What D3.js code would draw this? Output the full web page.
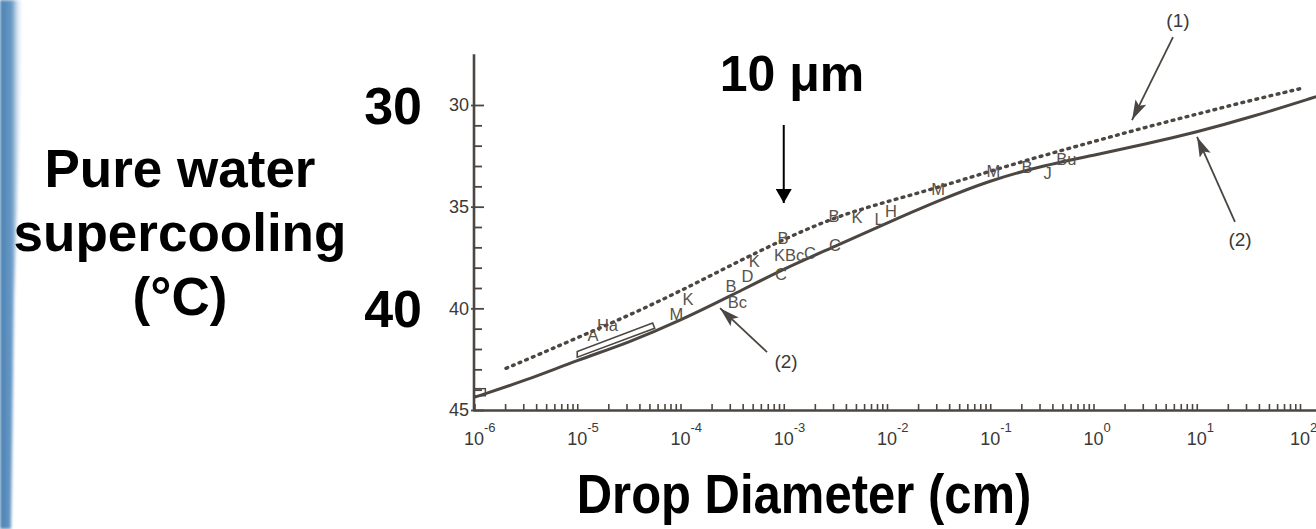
<!DOCTYPE html>
<html>
<head>
<meta charset="utf-8">
<script src="https://cdn.jsdelivr.net/npm/d3@7"></script>
<style>
  html, body { margin: 0; padding: 0; background: #ffffff; }
  svg { display: block; }
</style>
</head>
<body>
<svg id="chart" width="1316" height="529"></svg>
<script>
// ---- Data -------------------------------------------------------------
// Drop diameter as log10(cm); supercooling temperature in °C (plotted downward)
const solidLogD  = [-6.0, -5.5, -5.0, -4.5, -4.0, -3.5, -3.0, -2.5, -2.0, -1.5, -1.0, -0.5, 0.0, 0.5, 1.0, 1.5, 2.2];
const solidTemp  = [44.38, 43.55, 42.55, 41.68, 40.6, 39.35, 38.05, 36.95, 35.8, 34.7, 33.7, 33.0, 32.47, 31.93, 31.33, 30.64, 29.52];

const dottedLogD = [-5.69, -5.5, -5.0, -4.5, -4.0, -3.5, -3.0, -2.5, -2.0, -1.5, -1.0, -0.5, 0.0, 0.5, 1.0, 1.5, 2.0];
const dottedTemp = [42.95, 42.55, 41.45, 40.35, 39.15, 37.85, 36.6, 35.5, 34.75, 34.05, 33.25, 32.5, 31.8, 31.1, 30.45, 29.8, 29.2];

// Experimental data markers (letters) along the curves
const markText = ["A", "Ha", "M", "K", "B", "Bc", "D", "K", "B", "KBc", "C", "C", "C", "B", "K", "L", "H", "M", "M", "B", "J", "Bu"];
const markLogD = [-4.847, -4.707, -4.039, -3.927, -3.511, -3.448, -3.351, -3.285, -3.007, -2.949, -3.027, -2.745, -2.504, -2.513, -2.291, -2.077, -1.961, -1.506, -0.969, -0.644, -0.445, -0.262];
const markTemp = [41.3, 40.82, 40.28, 39.55, 38.9, 39.7, 38.42, 37.68, 36.55, 37.38, 38.3, 37.3, 36.9, 35.46, 35.53, 35.6, 35.21, 34.13, 33.25, 33.05, 33.35, 32.68];

// Measurement range boxes (parallelogram corners)
const boxLogD = [-5.0, -5.0, -4.27, -4.25];
const boxTemp = [42.4, 42.12, 40.72, 40.98];
const startBoxLogD = [-6.0, -5.89];
const startBoxTemp = [43.95, 44.3];

// Curve callouts: label, arrow tail and arrow tip
const noteText     = ["(1)", "(2)", "(2)"];
const noteLabLogD  = [0.818, 1.419, -2.978];
const noteLabTemp  = [25.82, 36.6, 42.62];
const noteTailLogD = [0.770, 1.370, -3.162];
const noteTailTemp = [26.66, 35.75, 42.15];
const noteTipLogD  = [0.373, 1.003, -3.617];
const noteTipTemp  = [30.74, 31.57, 39.99];

// Axis ticks
const yMinorTicks = d3.range(30, 46);
const yLabelTicks = [30, 35, 40, 45];
const xDecades    = [-6, -5, -4, -3, -2, -1, 0, 1, 2];
const bigYLabels  = [30, 40];

// ---- Layout -----------------------------------------------------------
const INK = "#4b4641";
const FONT = "'Liberation Sans', Arial, Helvetica, sans-serif";

const svg = d3.select("#chart");

const x = d3.scaleLog().domain([1e-6, Math.pow(10, 2.2)]).range([474, 474 + 8.2 * 103.25]);
const y = d3.scaleLinear().domain([30, 45]).range([105, 410]);
const px = ld => x(Math.pow(10, ld));

// Slide background edge on the left
const defs = svg.append("defs");
const grad = defs.append("linearGradient").attr("id", "edge").attr("x1", 0).attr("x2", 1).attr("y1", 0).attr("y2", 0);
grad.append("stop").attr("offset", "0%").attr("stop-color", "#4a80b2");
grad.append("stop").attr("offset", "50%").attr("stop-color", "#6a9ac6");
grad.append("stop").attr("offset", "100%").attr("stop-color", "#ffffff").attr("stop-opacity", 0);
defs.append("filter").attr("id", "soft").append("feGaussianBlur").attr("stdDeviation", 1.8);
svg.append("path")
  .attr("d", "M0,0 L24,0 L20,120 L14,300 L11,529 L0,529 Z")
  .attr("fill", "url(#edge)")
  .attr("filter", "url(#soft)");

// ---- Axes -------------------------------------------------------------
const yAxis = d3.axisLeft(y)
  .tickValues(yMinorTicks)
  .tickSize(-9)
  .tickPadding(6)
  .tickFormat(d => yLabelTicks.includes(d) ? d : "");

const gy = svg.append("g").attr("transform", "translate(474,0)").call(yAxis);
gy.select(".domain").remove();
gy.selectAll(".tick line")
  .attr("stroke", INK).attr("stroke-width", 1.8)
  .attr("x1", d => yLabelTicks.includes(d) ? -3 : 0)
  .attr("x2", d => yLabelTicks.includes(d) ? 10 : 8);
gy.selectAll(".tick text")
  .attr("x", -5)
  .attr("font-family", FONT).attr("font-size", 18).attr("fill", "#3a3936");
svg.append("line")
  .attr("x1", 474).attr("x2", 474)
  .attr("y1", y(27.5)).attr("y2", y(45))
  .attr("stroke", INK).attr("stroke-width", 2.6);

const xMinor = [];
xDecades.forEach(n => { for (let k = 2; k <= 10; k++) xMinor.push(k * Math.pow(10, n)); });
const xAxis = d3.axisBottom(x)
  .tickValues(xMinor.filter(v => v <= x.domain()[1]))
  .tickSize(-6)
  .tickFormat("");
const gx = svg.append("g").attr("transform", "translate(0,410)").call(xAxis);
gx.select(".domain").attr("stroke", INK).attr("stroke-width", 2.6);
gx.selectAll(".tick line").attr("stroke", INK).attr("stroke-width", 1.6);

// Decade labels with superscript exponents
const xl = svg.append("g").attr("font-family", FONT).attr("fill", "#3a3936");
xl.selectAll("text.base").data(xDecades).join("text")
  .attr("class", "base")
  .attr("x", d => px(d)).attr("y", 445)
  .attr("text-anchor", "middle")
  .attr("font-size", 18)
  .text("10");
xl.selectAll("text.exp").data(xDecades).join("text")
  .attr("class", "exp")
  .attr("x", d => px(d) + 10).attr("y", 432)
  .attr("font-size", 13)
  .text(d => String(d));

// ---- Curves -----------------------------------------------------------
const line = d3.line()
  .x(d => px(d[0]))
  .y(d => y(d[1]))
  .curve(d3.curveBasis);

svg.append("path")
  .datum(solidLogD.map((v, i) => [v, solidTemp[i]]))
  .attr("d", line)
  .attr("fill", "none")
  .attr("stroke", INK)
  .attr("stroke-width", 3);

svg.append("path")
  .datum(dottedLogD.map((v, i) => [v, dottedTemp[i]]))
  .attr("d", line)
  .attr("fill", "none")
  .attr("stroke", INK)
  .attr("stroke-width", 3.4)
  .attr("stroke-linecap", "round")
  .attr("stroke-dasharray", "1.8 5.4");

// Measurement boxes
svg.append("path")
  .datum(boxLogD.map((v, i) => [px(v), y(boxTemp[i])]))
  .attr("d", d => "M" + d.join("L") + "Z")
  .attr("fill", "none")
  .attr("stroke", INK)
  .attr("stroke-width", 1.6);
svg.append("rect")
  .attr("x", px(startBoxLogD[0])).attr("y", y(startBoxTemp[0]))
  .attr("width", px(startBoxLogD[1]) - px(startBoxLogD[0]))
  .attr("height", y(startBoxTemp[1]) - y(startBoxTemp[0]))
  .attr("fill", "none").attr("stroke", INK).attr("stroke-width", 1.4);

// Letter markers
svg.append("g")
  .attr("font-family", FONT).attr("font-size", 16.5).attr("fill", "#57524c")
  .selectAll("text").data(markText).join("text")
  .attr("x", (d, i) => px(markLogD[i]))
  .attr("y", (d, i) => y(markTemp[i]))
  .attr("text-anchor", "middle")
  .attr("dominant-baseline", "central")
  .text(d => d);

// Callout arrows
defs.append("marker")
  .attr("id", "head")
  .attr("viewBox", "0 0 20 12").attr("refX", 20).attr("refY", 6)
  .attr("markerUnits", "userSpaceOnUse")
  .attr("markerWidth", 20).attr("markerHeight", 12)
  .attr("orient", "auto")
  .append("path").attr("d", "M0,0 L20,6 L0,12 L4,6 Z").attr("fill", INK);

const notes = svg.append("g");
noteText.forEach((t, i) => {
  notes.append("line")
    .attr("x1", px(noteTailLogD[i])).attr("y1", y(noteTailTemp[i]))
    .attr("x2", px(noteTipLogD[i])).attr("y2", y(noteTipTemp[i]))
    .attr("stroke", INK).attr("stroke-width", 1.8)
    .attr("marker-end", "url(#head)");
  notes.append("text")
    .attr("x", px(noteLabLogD[i])).attr("y", y(noteLabTemp[i]))
    .attr("text-anchor", "middle").attr("dominant-baseline", "central")
    .attr("font-family", FONT).attr("font-size", 19).attr("fill", "#3a3936")
    .text(t);
});

// ---- Slide annotations --------------------------------------------------
defs.append("marker")
  .attr("id", "blackhead")
  .attr("viewBox", "0 0 14 16").attr("refX", 14).attr("refY", 8)
  .attr("markerUnits", "userSpaceOnUse")
  .attr("markerWidth", 14).attr("markerHeight", 16)
  .attr("orient", "auto")
  .append("path").attr("d", "M0,0 L14,8 L0,16 Z").attr("fill", "#000");

// 10 µm = 1e-3 cm
svg.append("line")
  .attr("x1", x(1e-3)).attr("x2", x(1e-3))
  .attr("y1", 125).attr("y2", 203)
  .attr("stroke", "#000").attr("stroke-width", 2)
  .attr("marker-end", "url(#blackhead)");
svg.append("text")
  .attr("x", x(1e-3) - 64).attr("y", 91)
  .attr("font-family", FONT).attr("font-weight", "bold").attr("font-size", 50)
  .text("10 \u03bcm");

svg.append("g")
  .attr("font-family", FONT).attr("font-weight", "bold").attr("font-size", 52)
  .selectAll("text").data(bigYLabels).join("text")
  .attr("x", 422).attr("y", d => y(d) + 18.5)
  .attr("text-anchor", "end")
  .text(d => d);

const ytitle = svg.append("text")
  .attr("font-family", FONT).attr("font-weight", "bold").attr("font-size", 53)
  .attr("text-anchor", "middle");
["Pure water", "supercooling", "(\u00b0C)"].forEach((s, i) => {
  ytitle.append("tspan").attr("x", 180).attr("y", 187 + i * 64).text(s);
});

svg.append("text")
  .attr("transform", "translate(804,513) scale(1,1.12)")
  .attr("text-anchor", "middle")
  .attr("font-family", FONT).attr("font-weight", "bold").attr("font-size", 49)
  .text("Drop Diameter (cm)");
</script>
</body>
</html>
